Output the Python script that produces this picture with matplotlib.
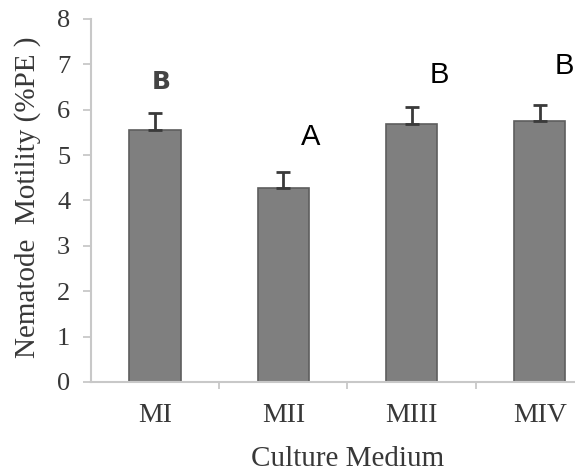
import matplotlib
matplotlib.use("Agg")
import matplotlib.pyplot as plt
import numpy as np

# culture media and mean motility with standard error
media = ["MI", "MII", "MIII", "MIV"]
motility = [5.55, 4.27, 5.68, 5.75]
errors = [0.37, 0.36, 0.38, 0.35]
groups = ["B", "A", "B", "B"]

fig = plt.figure(figsize=(5.75, 4.73), dpi=100)
ax = fig.add_axes([0.1583, 0.1924, 0.892, 0.7675])

x = np.arange(len(media))
ax.bar(x, motility, width=0.4, color="#7f7f7f", edgecolor="#5e5e5e", linewidth=1.2, zorder=2)
ax.errorbar(x, motility, yerr=[np.zeros(len(errors)), errors], fmt="none",
            ecolor="#3a3a3a", elinewidth=2, capsize=5, capthick=2, zorder=3)

# significance letters
ax.text(x[0] + 0.05, motility[0] + 1.05, groups[0], fontsize=18, fontweight="bold",
        color="#444444", ha="center", va="center", family="DejaVu Sans")
ax.text(x[1] + 0.21, motility[1] + 1.13, groups[1], fontsize=21, color="black",
        ha="center", va="center", family="Liberation Sans")
ax.text(x[2] + 0.22, motility[2] + 1.08, groups[2], fontsize=21, color="black",
        ha="center", va="center", family="Liberation Sans")
ax.text(x[3] + 0.19, motility[3] + 1.21, groups[3], fontsize=21, color="black",
        ha="center", va="center", family="Liberation Sans")

ax.set_xlim(-0.5, 3.5)
ax.set_ylim(0, 8)
ax.set_yticks(range(0, 9))
ax.set_yticklabels([str(v) for v in range(0, 9)], family="Liberation Serif",
                   fontsize=19, color="#383838")
ax.set_xticks(x)
ax.set_xticklabels(media, family="Liberation Serif", fontsize=20, color="#383838")
ax.set_xticks(np.arange(-0.5, 3.6, 1.0)[1:], minor=True)
ax.tick_params(axis="x", which="major", length=0, pad=15)
ax.tick_params(axis="x", which="minor", length=5, width=1.3, color="#c8c8c8")
ax.tick_params(axis="y", length=6, width=1.3, color="#c8c8c8", pad=9)

for s in ["top", "right"]:
    ax.spines[s].set_visible(False)
for s in ["left", "bottom"]:
    ax.spines[s].set_color("#c8c8c8")
    ax.spines[s].set_linewidth(1.5)

fig.text(28 / 575, 1 - 197 / 473, "Nematode  Motility (%PE )", rotation=90,
         ha="center", va="center", family="Liberation Serif", fontsize=21, color="#383838")
fig.text(348 / 575, 1 - 459 / 473, "Culture Medium", ha="center", va="center",
         family="Liberation Serif", fontsize=21, color="#383838")

fig.savefig("out.png", dpi=100)
